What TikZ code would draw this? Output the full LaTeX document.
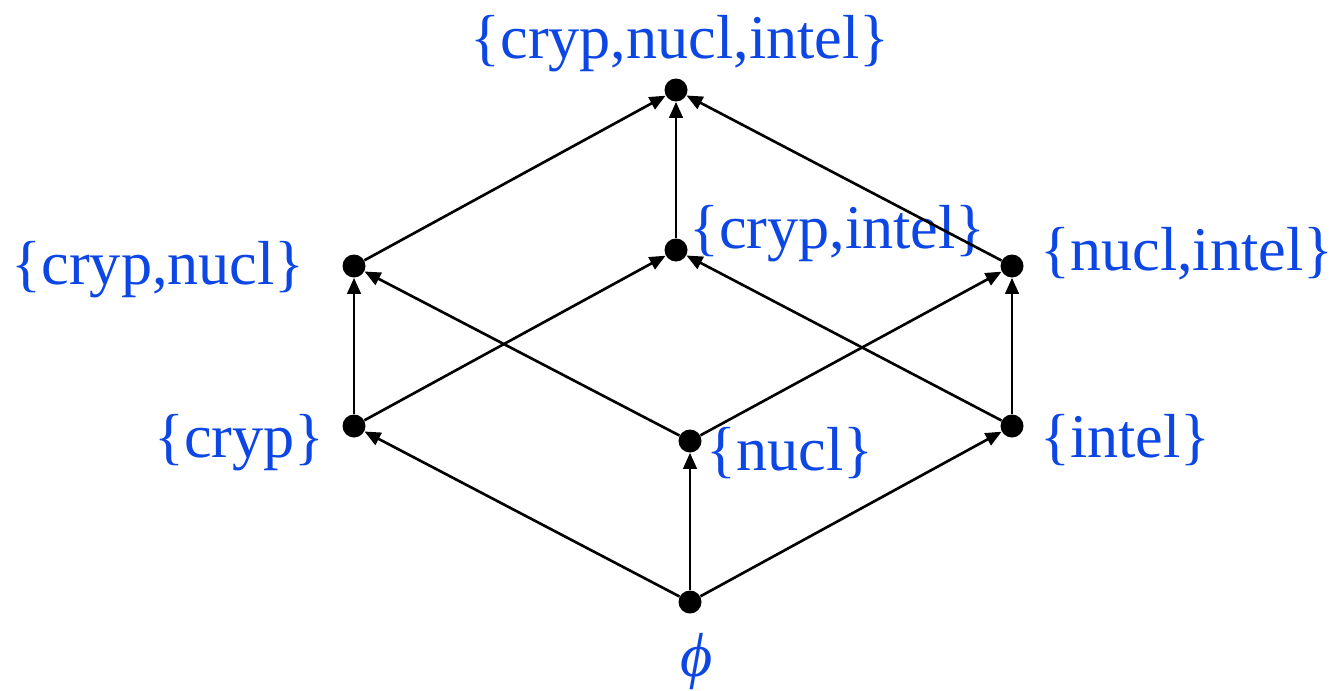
\documentclass[tikz,border=0pt]{standalone}
\usepackage{fontspec}
\setmainfont{Liberation Serif}
\usetikzlibrary{arrows.meta}
\definecolor{lblue}{RGB}{12,70,228}
\begin{document}
\begin{tikzpicture}[x=0.02cm,y=-0.02cm,
  dot/.style={circle,fill=black,inner sep=0pt,minimum size=0.46cm},
  lbl/.style={text=lblue,inner sep=0pt,font=\fontsize{35.4}{42}\selectfont},
  arr/.style={line width=1.5pt,-{Triangle[length=0.32cm,width=0.27cm]}}]
\useasboundingbox (0,0) rectangle (1339,690);
\node[dot] (top) at (676,90) {};
\node[dot] (cn) at (354,266) {};
\node[dot] (ci) at (676,250) {};
\node[dot] (ni) at (1012,266) {};
\node[dot] (c) at (354,426) {};
\node[dot] (n) at (690,441) {};
\node[dot] (i) at (1012,426) {};
\node[dot] (e) at (690,602) {};
\node[lbl,anchor=base] (ltop) at (680,58) {\{cryp,nucl,intel\}};
\node[lbl,anchor=base east] (lcn) at (305,284) {\{cryp,nucl\}};
\node[lbl,anchor=base west] (lci) at (689,248) {\{cryp,intel\}};
\node[lbl,anchor=base west] (lni) at (1040,270) {\{nucl,intel\}};
\node[lbl,anchor=base east] (lc) at (325,457) {\{cryp\}};
\node[lbl,anchor=base west] (ln) at (706,470) {\{nucl\}};
\node[lbl,anchor=base west] (li) at (1040,457) {\{intel\}};
\node[lbl,anchor=base] (le) at (697,676) {\itshape ϕ};
\draw[arr] (e) -- (c);
\draw[arr] (e) -- (n);
\draw[arr] (e) -- (i);
\draw[arr] (c) -- (cn);
\draw[arr] (c) -- (ci);
\draw[arr] (n) -- (cn);
\draw[arr] (n) -- (ni);
\draw[arr] (i) -- (ci);
\draw[arr] (i) -- (ni);
\draw[arr] (cn) -- (top);
\draw[arr] (ci) -- (top);
\draw[arr] (ni) -- (top);
\end{tikzpicture}
\end{document}
